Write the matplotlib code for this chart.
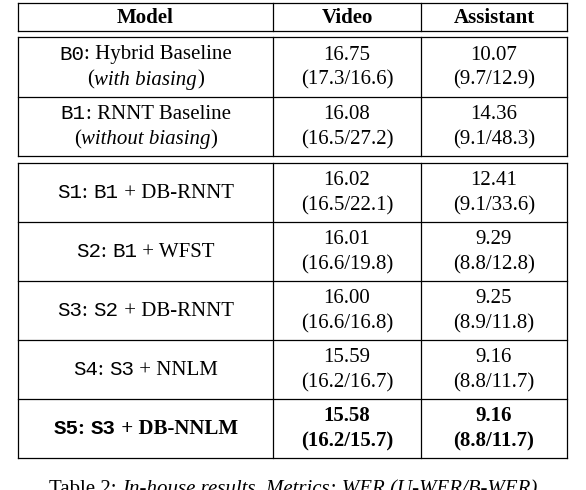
import matplotlib
matplotlib.use("Agg")
import matplotlib.pyplot as plt

SERIF = "Liberation Serif"
MONO = "Liberation Mono"

headers = ["Model", "Video", "Assistant"]
# model cell: list of lines, each line a list of (text, font, style, weight)
models = [
    [[("B0", MONO, "normal", "normal"), (": Hybrid Baseline", SERIF, "normal", "normal")],
     [("(", SERIF, "normal", "normal"), ("with biasing", SERIF, "italic", "normal"), (")", SERIF, "normal", "normal")]],
    [[("B1", MONO, "normal", "normal"), (": RNNT Baseline", SERIF, "normal", "normal")],
     [("(", SERIF, "normal", "normal"), ("without biasing", SERIF, "italic", "normal"), (")", SERIF, "normal", "normal")]],
    [[("S1", MONO, "normal", "normal"), (": ", SERIF, "normal", "normal"), ("B1", MONO, "normal", "normal"), (" + DB-RNNT", SERIF, "normal", "normal")]],
    [[("S2", MONO, "normal", "normal"), (": ", SERIF, "normal", "normal"), ("B1", MONO, "normal", "normal"), (" + WFST", SERIF, "normal", "normal")]],
    [[("S3", MONO, "normal", "normal"), (": ", SERIF, "normal", "normal"), ("S2", MONO, "normal", "normal"), (" + DB-RNNT", SERIF, "normal", "normal")]],
    [[("S4", MONO, "normal", "normal"), (": ", SERIF, "normal", "normal"), ("S3", MONO, "normal", "normal"), (" + NNLM", SERIF, "normal", "normal")]],
    [[("S5", MONO, "normal", "bold"), (": ", SERIF, "normal", "bold"), ("S3", MONO, "normal", "bold"), (" + DB-NNLM", SERIF, "normal", "bold")]],
]
video = [("16.75", "(17.3/16.6)"), ("16.08", "(16.5/27.2)"), ("16.02", "(16.5/22.1)"),
         ("16.01", "(16.6/19.8)"), ("16.00", "(16.6/16.8)"), ("15.59", "(16.2/16.7)"),
         ("15.58", "(16.2/15.7)")]
assistant = [("10.07", "(9.7/12.9)"), ("14.36", "(9.1/48.3)"), ("12.41", "(9.1/33.6)"),
             ("9.29", "(8.8/12.8)"), ("9.25", "(8.9/11.8)"), ("9.16", "(8.8/11.7)"),
             ("9.16", "(8.8/11.7)")]

FS = 15
xs = [18, 273, 421, 567]
row_y = [(37, 97), (97, 156), (163, 222), (222, 281), (281, 340), (340, 399), (399, 458)]

fig = plt.figure(figsize=(5.86, 4.9), dpi=100)
ax = fig.add_axes([0, 0, 1, 1])
ax.set_xlim(0, 586)
ax.set_ylim(490, 0)
ax.axis("off")
fig.canvas.draw()
renderer = fig.canvas.get_renderer()


def seg_line(cx, y, segs):
    texts, widths = [], []
    for s, fam, st, wt in segs:
        t = ax.text(0, y, s, family=fam, style=st, weight=wt, fontsize=FS, va="baseline", ha="left")
        bb = t.get_window_extent(renderer)
        texts.append(t)
        widths.append(bb.width)
    x = cx - sum(widths) / 2
    for t, w in zip(texts, widths):
        t.set_x(x)
        x += w


def hline(y):
    ax.plot([xs[0], xs[-1]], [y, y], color="black", lw=0.9)


# header
for i, h in enumerate(headers):
    ax.text((xs[i] + xs[i + 1]) / 2, 23, h, family=SERIF, weight="bold", fontsize=FS, ha="center", va="baseline")

for y in [3, 31, 37, 97, 156, 163, 222, 281, 340, 399, 458]:
    hline(y)
for x in xs:
    ax.plot([x, x], [3, 31], color="black", lw=0.9)
    ax.plot([x, x], [37, 156], color="black", lw=0.9)
    ax.plot([x, x], [163, 458], color="black", lw=0.9)

for i, (y0, y1) in enumerate(row_y):
    cy = (y0 + y1) / 2
    bold = "bold" if i == len(row_y) - 1 else "normal"
    lines = models[i]
    mx = (xs[0] + xs[1]) / 2
    if len(lines) == 1:
        seg_line(mx, cy + 5, lines[0])
    else:
        seg_line(mx, cy - 7.5, lines[0])
        seg_line(mx, cy + 17.5, lines[1])
    for j, col in enumerate([video, assistant]):
        cx = (xs[j + 1] + xs[j + 2]) / 2
        ax.text(cx, cy - 7.5, col[i][0], family=SERIF, weight=bold, fontsize=FS, ha="center", va="baseline")
        ax.text(cx, cy + 17.5, col[i][1], family=SERIF, weight=bold, fontsize=FS, ha="center", va="baseline")

seg_line(293, 494, [("Table 2: ", SERIF, "normal", "normal"),
                    ("In-house results. Metrics: WER (U-WER/B-WER)", SERIF, "italic", "normal")])

fig.savefig("out.png", dpi=100)
